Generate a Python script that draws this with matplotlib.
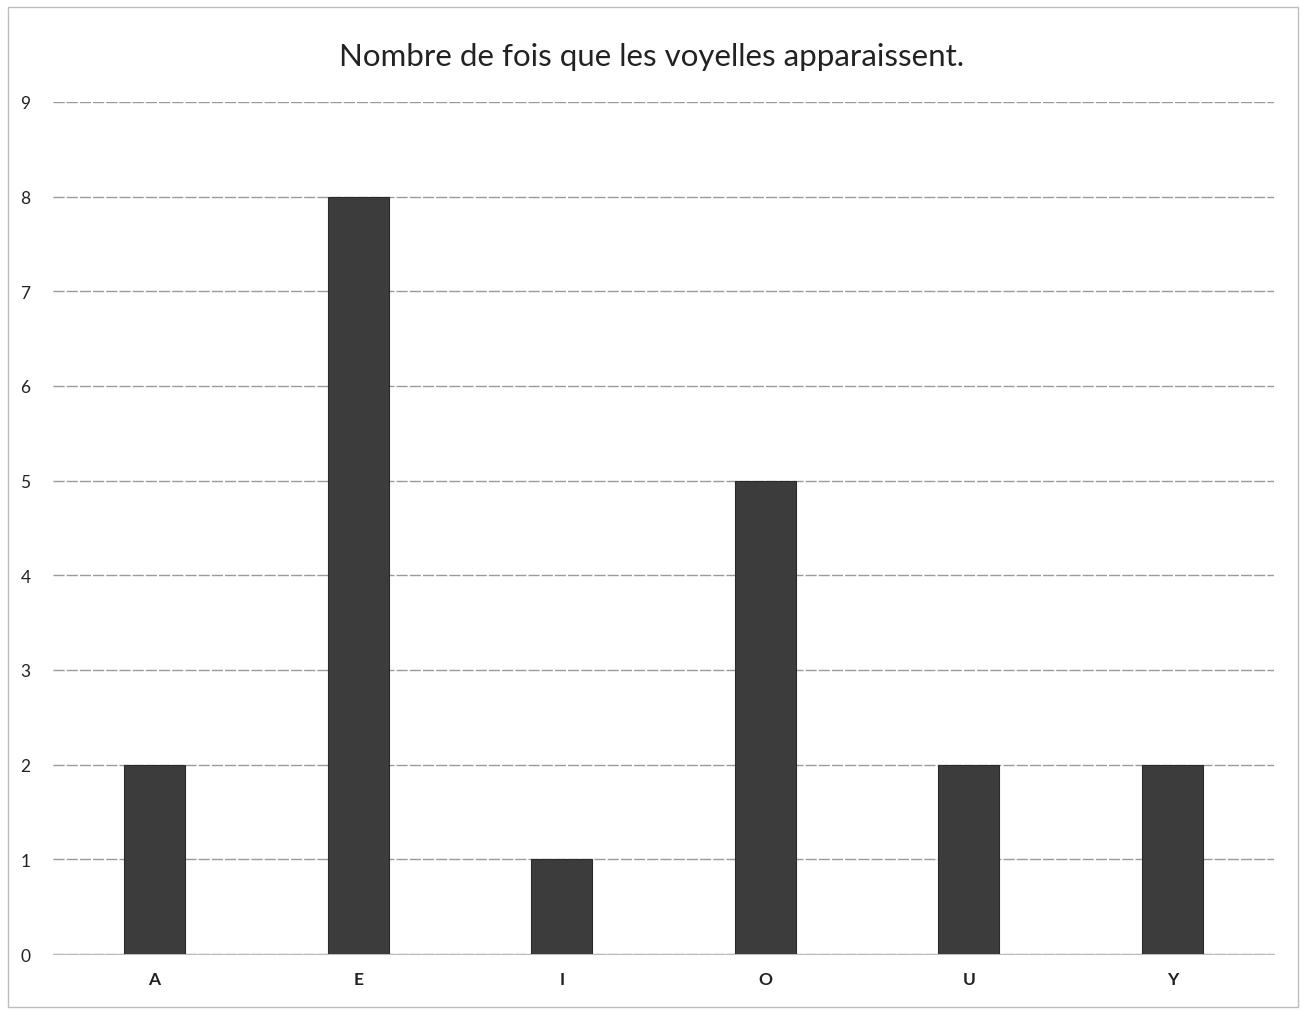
import matplotlib
matplotlib.use("Agg")
import matplotlib.pyplot as plt
from matplotlib.patches import Rectangle

categories = ["A", "E", "I", "O", "U", "Y"]
values = [2, 8, 1, 5, 2, 2]
yticks = list(range(0, 10))
title = "Nombre de fois que les voyelles apparaissent."

plt.rcParams['font.family'] = ['Lato', 'DejaVu Sans']

fig = plt.figure(figsize=(13.03, 10.12), dpi=100)
fig.patch.set_facecolor("white")
fig.patches.append(Rectangle((0.006, 0.004), 0.99, 0.988, transform=fig.transFigure,
                             fill=False, edgecolor="#bdbdbd", linewidth=1.0))

ax = fig.add_axes([0.0405, 0.0563, 0.9375, 0.842])
x = list(range(len(categories)))
ax.bar(x, values, width=0.30, color="#3c3c3c", edgecolor="#2a2a2a", linewidth=0.8, zorder=3)
ax.set_xlim(-0.5, len(categories) - 0.5)
ax.set_ylim(0, 9)
ax.set_yticks(yticks)
ax.set_yticklabels([str(t) for t in yticks], fontsize=12.5, color="#222222")
ax.set_xticks(x)
ax.set_xticklabels(categories, fontsize=12.5, color="#222222", fontweight="bold")
ax.tick_params(axis="both", length=0)
ax.tick_params(axis="y", pad=16)
ax.tick_params(axis="x", pad=12)
ax.yaxis.grid(True, color="#9a9a9a", linewidth=1.0, linestyle=(0, (8, 1.5)), zorder=0)
for s in ["top", "right", "left"]:
    ax.spines[s].set_visible(False)
ax.spines["bottom"].set_color("#bdbdbd")

fig.text(0.5, 0.944, title, ha="center", va="center", fontsize=22.5, color="#222222")

fig.savefig("out.png", dpi=100, facecolor="white")
